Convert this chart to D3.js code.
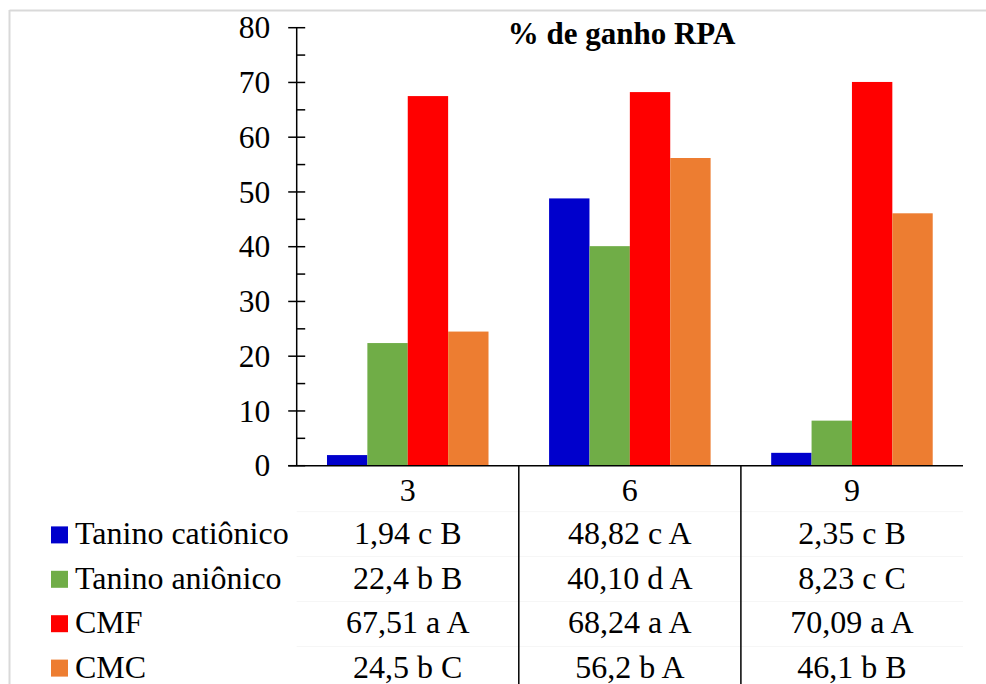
<!DOCTYPE html>
<html>
<head>
<meta charset="utf-8">
<script src="https://cdn.jsdelivr.net/npm/d3@7"></script>
<style>
  html, body { margin: 0; padding: 0; background: #fff; }
  svg { display: block; }
</style>
</head>
<body>
<svg id="chart" width="986" height="684"></svg>
<script>
const categories = ["3", "6", "9"];
const seriesNames = ["Tanino catiônico", "Tanino aniônico", "CMF", "CMC"];
const seriesColors = ["#0000CC", "#70AD47", "#FF0000", "#ED7D31"];
const taninoCationico = [1.94, 48.82, 2.35];
const taninoAnionico = [22.4, 40.10, 8.23];
const cmf = [67.51, 68.24, 70.09];
const cmc = [24.5, 56.2, 46.1];
const tableLabels = [
  ["1,94 c B", "48,82 c A", "2,35 c B"],
  ["22,4 b B", "40,10 d A", "8,23 c C"],
  ["67,51 a A", "68,24 a A", "70,09 a A"],
  ["24,5 b C", "56,2 b A", "46,1 b B"]
];
const yTicks = [0, 10, 20, 30, 40, 50, 60, 70, 80];
const yMinorTicks = [5, 15, 25, 35, 45, 55, 65, 75];
const title = "% de ganho RPA";

const seriesValues = [taninoCationico, taninoAnionico, cmf, cmc];

(function draw() {
const FONT = "'Liberation Serif'";
const svg = d3.select("#chart");
const pLeft = 296.7, pRight = 963, pTop = 27.7, pBottom = 465.7;
const fontSize = 32;
const tickFont = 31.5;
const titleFont = 31;

// outer light border
svg.append("line").attr("x1", 9.5).attr("x2", 986).attr("y1", 10.5).attr("y2", 10.5)
  .attr("stroke", "#d9d9d9").attr("stroke-width", 2);
svg.append("line").attr("x1", 9.5).attr("x2", 9.5).attr("y1", 10).attr("y2", 684)
  .attr("stroke", "#d9d9d9").attr("stroke-width", 2);

const x = d3.scaleBand().domain(categories).range([pLeft, pRight]).paddingInner(0).paddingOuter(0);
const xs = d3.scaleBand().domain(seriesNames).range([0, x.bandwidth()]).paddingInner(0).paddingOuter(0.75);
const y = d3.scaleLinear().domain([0, 80]).range([pBottom, pTop]);

// bars
const groups = svg.append("g").selectAll("g").data(categories).join("g")
  .attr("transform", d => `translate(${x(d)},0)`);
groups.selectAll("rect")
  .data((c, ci) => seriesNames.map((s, si) => ({ s, si, v: seriesValues[si][ci] })))
  .join("rect")
  .attr("x", d => xs(d.s))
  .attr("width", xs.bandwidth())
  .attr("y", d => y(d.v))
  .attr("height", d => y(0) - y(d.v))
  .attr("fill", d => seriesColors[d.si]);

// y axis
const yAxis = svg.append("g").attr("transform", `translate(${pLeft},0)`);
yAxis.append("line").attr("x1", 0).attr("x2", 0).attr("y1", y(80)).attr("y2", y(0))
  .attr("stroke", "#000").attr("stroke-width", 1.5);
yAxis.selectAll("line.major").data(yTicks).join("line").attr("class", "major")
  .attr("x1", -8.5).attr("x2", 8.5).attr("y1", d => y(d)).attr("y2", d => y(d))
  .attr("stroke", "#000").attr("stroke-width", 1.5);
yAxis.selectAll("line.minor").data(yMinorTicks).join("line").attr("class", "minor")
  .attr("x1", 0).attr("x2", 8.5).attr("y1", d => y(d)).attr("y2", d => y(d))
  .attr("stroke", "#000").attr("stroke-width", 1.5);
yAxis.selectAll("text").data(yTicks).join("text")
  .attr("x", -26.5).attr("y", d => y(d)).attr("dy", "0.34em")
  .attr("text-anchor", "end").attr("font-size", tickFont).attr("font-family", FONT)
  .text(d => d);

// x axis baseline
svg.append("line").attr("x1", pLeft - 8.5).attr("x2", pRight).attr("y1", pBottom).attr("y2", pBottom)
  .attr("stroke", "#000").attr("stroke-width", 1.5);

// title
svg.append("text").attr("x", 621.5).attr("y", 44).attr("text-anchor", "middle")
  .attr("font-size", titleFont).attr("font-weight", "bold").attr("font-family", FONT).text(title);

// data table
const rowY = [500.5, 544.4, 588.8, 633.2, 677.6];

// faint row separators
[511.7, 556.5, 601.5, 646.5].forEach(yy => {
  svg.append("line").attr("x1", pLeft).attr("x2", pRight).attr("y1", yy).attr("y2", yy)
    .attr("stroke", "#f6f6f6").attr("stroke-width", 1);
});

// vertical separators between categories
svg.append("g").selectAll("line").data(categories.slice(1)).join("line")
  .attr("x1", d => x(d)).attr("x2", d => x(d)).attr("y1", pBottom).attr("y2", 684)
  .attr("stroke", "#000").attr("stroke-width", 1.5);

// category labels
svg.append("g").selectAll("text").data(categories).join("text")
  .attr("x", d => x(d) + x.bandwidth() / 2).attr("y", rowY[0])
  .attr("text-anchor", "middle").attr("font-size", fontSize).attr("font-family", FONT).text(d => d);

// legend rows
const legend = svg.append("g").selectAll("g").data(seriesNames).join("g");
legend.append("rect").attr("x", 51).attr("y", (d, i) => rowY[i + 1] - 18)
  .attr("width", 17).attr("height", 17).attr("fill", (d, i) => seriesColors[i]);
legend.append("text").attr("x", 75).attr("y", (d, i) => rowY[i + 1])
  .attr("font-size", fontSize).attr("font-family", FONT).text(d => d);

// table values
tableLabels.forEach((row, ri) => {
  svg.append("g").selectAll("text").data(row).join("text")
    .attr("x", (d, ci) => x(categories[ci]) + x.bandwidth() / 2)
    .attr("y", rowY[ri + 1]).attr("text-anchor", "middle")
    .attr("font-size", fontSize).attr("font-family", FONT).text(d => d);
});
})();
</script>
</body>
</html>
